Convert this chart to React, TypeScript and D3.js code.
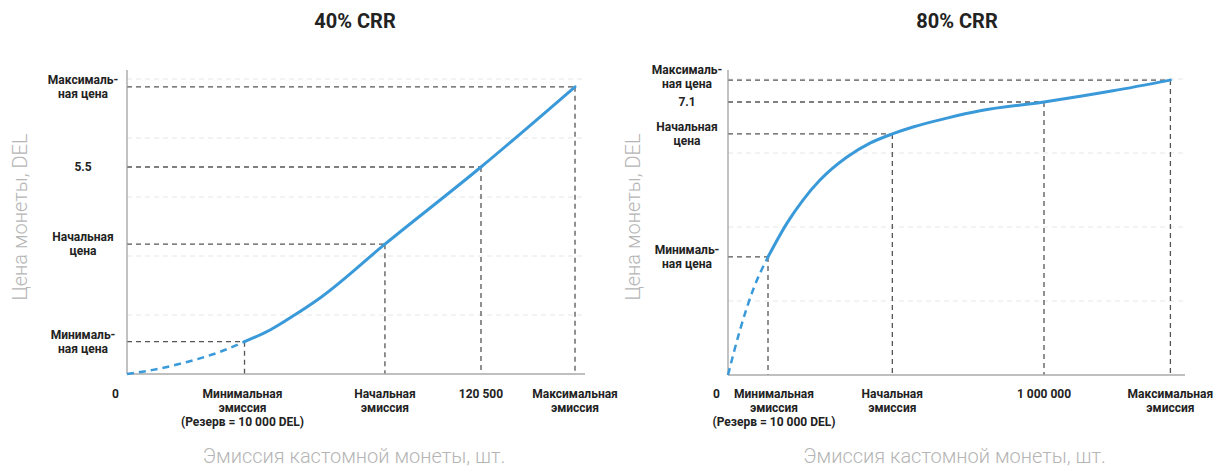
import * as d3 from 'd3';

// 40% CRR panel
const crr40Supply = [0, 8850, 20400, 31700, 40000, 48700, 56500, 65700, 87800, 120500, 152500];
const crr40Price = [0, 0.11, 0.32, 0.59, 0.86, 1.17, 1.54, 2.02, 3.45, 5.5, 7.63];
const crr40XTicks = [0, 40000, 87800, 120500, 152500];
const crr40XLabels = [
  ['0'],
  ['Минимальная', 'эмиссия', '(Резерв = 10 000 DEL)'],
  ['Начальная', 'эмиссия'],
  ['120 500'],
  ['Максимальная', 'эмиссия'],
];
const crr40YTicks = [0.86, 3.45, 5.5, 7.63];
const crr40YLabels = [['Минималь-', 'ная цена'], ['Начальная', 'цена'], ['5.5'], ['Максималь-', 'ная цена']];

// 80% CRR panel
const crr80Supply = [0, 38000, 79100, 126600, 186700, 237300, 291100, 376600, 449400, 520000, 585400, 693000, 797500, 1000000, 1218000, 1400000];
const crr80Price = [0, 1.17, 2.21, 3.07, 3.95, 4.55, 5.07, 5.67, 6.03, 6.27, 6.45, 6.68, 6.87, 7.1, 7.39, 7.67];
const crr80XTicks = [0, 126600, 520000, 1000000, 1400000];
const crr80XLabels = [
  ['0'],
  ['Минимальная', 'эмиссия', '(Резерв = 10 000 DEL)'],
  ['Начальная', 'эмиссия'],
  ['1 000 000'],
  ['Максимальная', 'эмиссия'],
];
const crr80YTicks = [3.07, 6.27, 7.1, 7.67];
const crr80YLabels = [['Минималь-', 'ная цена'], ['Начальная', 'цена'], ['7.1'], ['Максималь-', 'ная цена']];

const FONT = 'Roboto, "Noto Sans", sans-serif';

type PanelProps = {
  title: string;
  supply: number[];
  price: number[];
  solidFrom: number;
  xTicks: number[];
  xLabels: string[][];
  yTicks: number[];
  yLabels: string[][];
  refX: number; // supply value pinned to refPx
  refY: number;
  left: number;
  refPx: number;
  axisRight: number;
  bottom: number;
  refPy: number;
  gridCount: number;
  labelX: number;
  titleX: number;
  yTitleX: number;
  minLabelShift: number;
  topLabelShift: number;
};

function Panel(p: PanelProps) {
  const x = d3.scaleLinear().domain([0, p.refX]).range([p.left, p.refPx]);
  const y = d3.scaleLinear().domain([0, p.refY]).range([p.bottom, p.refPy]);
  const gridTop = 79;
  const axisTop = 70;
  const grid = d3.scaleLinear().domain([0, p.gridCount]).range([p.bottom, gridTop]);
  const pts = p.supply.map((s, i) => [s, p.price[i]] as [number, number]);
  const line = d3
    .line<[number, number]>()
    .x((d) => x(d[0]))
    .y((d) => y(d[1]))
    .curve(d3.curveMonotoneX);
  const dashedPts = pts.slice(0, p.solidFrom + 1);
  const solidPts = pts.slice(p.solidFrom);
  const guideX = p.xTicks.slice(1);
  const guideY = p.yTicks;
  const midX = (p.left + p.axisRight) / 2;

  return (
    <g>
      <text x={p.titleX} y={28} textAnchor="middle" fontFamily={FONT} fontWeight={700} fontSize={20} fill="#222">
        {p.title}
      </text>
      {d3.range(1, p.gridCount + 1).map((k) => (
        <line key={'g' + k} x1={p.left} x2={p.axisRight} y1={grid(k)} y2={grid(k)} stroke="#e6e6e6" strokeDasharray="5,4" strokeWidth={1} />
      ))}
      {guideY.map((v, i) => (
        <line key={'hy' + i} x1={p.left} x2={x(guideX[i])} y1={y(v)} y2={y(v)} stroke="#555" strokeDasharray="5,4" strokeWidth={1.3} />
      ))}
      {guideX.map((v, i) => (
        <line key={'vx' + i} x1={x(v)} x2={x(v)} y1={y(guideY[i])} y2={p.bottom} stroke="#555" strokeDasharray="5,4" strokeWidth={1.3} />
      ))}
      <line x1={p.left} x2={p.left} y1={axisTop} y2={p.bottom} stroke="#999" strokeWidth={1.2} />
      <line x1={p.left} x2={p.axisRight} y1={p.bottom} y2={p.bottom} stroke="#aaa" strokeWidth={1.5} />
      <path d={line(dashedPts) || ''} fill="none" stroke="#3a9ad9" strokeWidth={2.5} strokeDasharray="7,5" />
      <path d={line(solidPts) || ''} fill="none" stroke="#3a9ad9" strokeWidth={3} strokeLinecap="round" />
      {p.xTicks.map((v, i) => {
        const lines = p.xLabels[i];
        const isZero = v === 0;
        const cx = isZero ? x(v) - 8 : x(v) + (i === 1 ? p.minLabelShift : 0);
        return (
          <text key={'xl' + i} x={cx} y={398} textAnchor={isZero ? 'end' : 'middle'} fontFamily={FONT} fontWeight={700} fontSize={12} fill="#222">
            {lines.map((t, j) => (
              <tspan key={j} x={cx} dy={j === 0 ? 0 : 14}>
                {t}
              </tspan>
            ))}
          </text>
        );
      })}
      {p.yTicks.map((v, i) => {
        const lines = p.yLabels[i];
        const shift = i === p.yTicks.length - 1 ? p.topLabelShift : 0;
        const base = y(v) + shift + (lines.length === 1 ? 4 : -3);
        return (
          <text key={'yl' + i} x={p.labelX} y={base} textAnchor="middle" fontFamily={FONT} fontWeight={700} fontSize={12} fill="#222">
            {lines.map((t, j) => (
              <tspan key={j} x={p.labelX} dy={j === 0 ? 0 : 14}>
                {t}
              </tspan>
            ))}
          </text>
        );
      })}
      <text x={midX - 2} y={463} textAnchor="middle" fontFamily={FONT} fontWeight={300} fontSize={20} fill="#b5b5b5">
        Эмиссия кастомной монеты, шт.
      </text>
      <text
        transform={`translate(${p.yTitleX + 7},217) rotate(-90)`}
        textAnchor="middle"
        fontFamily={FONT}
        fontWeight={300}
        fontSize={20}
        fill="#b5b5b5"
      >
        Цена монеты, DEL
      </text>
    </g>
  );
}

export default function App() {
  return (
    <svg width={1215} height={469} style={{ position: 'absolute', left: 0, top: 0, background: '#fff' }}>
      <Panel
        title="40% CRR"
        supply={crr40Supply}
        price={crr40Price}
        solidFrom={4}
        xTicks={crr40XTicks}
        xLabels={crr40XLabels}
        yTicks={crr40YTicks}
        yLabels={crr40YLabels}
        refX={120500}
        refY={5.5}
        left={127}
        refPx={481}
        axisRight={585}
        bottom={374}
        refPy={167}
        gridCount={5}
        labelX={83}
        titleX={355}
        yTitleX={20}
        minLabelShift={-2}
        topLabelShift={0}
      />
      <Panel
        title="80% CRR"
        supply={crr80Supply}
        price={crr80Price}
        solidFrom={3}
        xTicks={crr80XTicks}
        xLabels={crr80XLabels}
        yTicks={crr80YTicks}
        yLabels={crr80YLabels}
        refX={1000000}
        refY={7.1}
        left={728}
        refPx={1044}
        axisRight={1185}
        bottom={375}
        refPy={102}
        gridCount={4}
        labelX={687}
        titleX={957}
        yTitleX={633}
        minLabelShift={6}
        topLabelShift={-3}
      />
    </svg>
  );
}
